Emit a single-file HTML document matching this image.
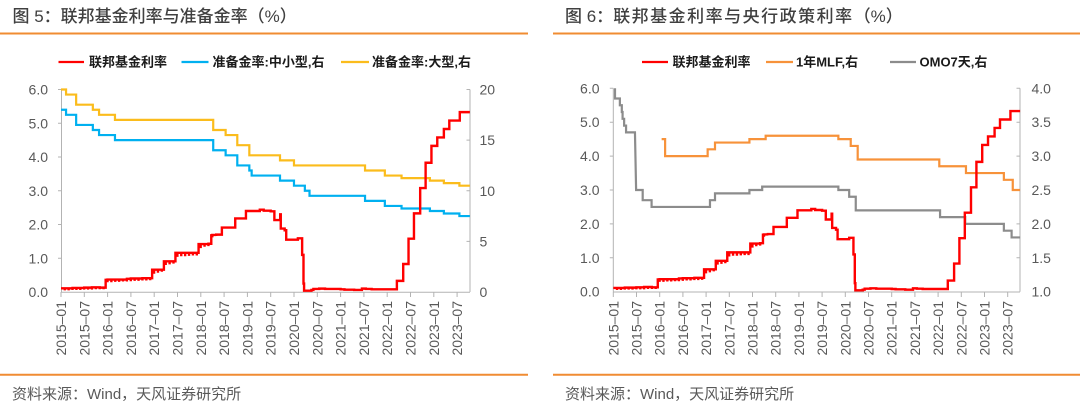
<!DOCTYPE html>
<html>
<head>
<meta charset="utf-8">
<style>
html,body{margin:0;padding:0;background:#fff;}
body{width:1080px;height:413px;overflow:hidden;}
svg{display:block;}
text{font-family:"Liberation Sans","Noto Sans CJK SC",sans-serif;}
.t{font-size:17px;font-weight:500;fill:#404040;}
.lg{font-size:13px;font-weight:bold;fill:#1a1a1a;}
.src{font-size:15px;fill:#595959;}
.yl{font-size:14px;fill:#595959;}
.xl{font-size:14px;fill:#595959;}
.ax{stroke:#b3b3b3;stroke-width:1;fill:none;}
.ln{fill:none;vector-effect:non-scaling-stroke;stroke-linejoin:miter;}
</style>
</head>
<body>
<svg width="1080" height="413" viewBox="0 0 1080 413" xmlns="http://www.w3.org/2000/svg">
<rect width="1080" height="413" fill="#fff"/>

<!-- ================= LEFT PANEL ================= -->
<text class="t" x="12.5" y="22">图 5：联邦基金利率与准备金率（%）</text>
<line x1="0" y1="33.5" x2="528" y2="33.5" stroke="#f08c32" stroke-width="2"/>

<!-- legend -->
<line x1="58.5" y1="62" x2="84" y2="62" stroke="#ff0000" stroke-width="2.2"/>
<text class="lg" x="89" y="66.5">联邦基金利率</text>
<line x1="181.5" y1="62" x2="208.5" y2="62" stroke="#00b0f0" stroke-width="2.2"/>
<text class="lg" x="212.5" y="66.5">准备金率:中小型,右</text>
<line x1="341" y1="62" x2="369" y2="62" stroke="#fbbc1c" stroke-width="2.2"/>
<text class="lg" x="372" y="66.5">准备金率:大型,右</text>

<!-- axes -->
<line class="ax" x1="61.5" y1="89.5" x2="61.5" y2="292"/>
<line class="ax" x1="470" y1="89.5" x2="470" y2="292"/>
<line class="ax" x1="61" y1="292.3" x2="470" y2="292.3"/>
<g class="ax">
<path d="M58,89.5H61.5M58,123.25H61.5M58,157H61.5M58,190.75H61.5M58,224.5H61.5M58,258.25H61.5"/>
<path d="M466.5,89.5H470M466.5,140.1H470M466.5,190.75H470M466.5,241.4H470"/>
<path d="M61,292V297M84.3,292V297M107.6,292V297M130.9,292V297M154.2,292V297M177.5,292V297M200.8,292V297M224.1,292V297M247.4,292V297M270.7,292V297M294,292V297M317.3,292V297M340.6,292V297M363.9,292V297M387.2,292V297M410.5,292V297M433.8,292V297M457.1,292V297"/>
</g>

<!-- y labels left -->
<g class="yl" text-anchor="end">
<text x="48" y="94.5">6.0</text>
<text x="48" y="128.3">5.0</text>
<text x="48" y="162">4.0</text>
<text x="48" y="195.8">3.0</text>
<text x="48" y="229.5">2.0</text>
<text x="48" y="263.3">1.0</text>
<text x="48" y="297">0.0</text>
</g>
<g class="yl">
<text x="479.5" y="94.5">20</text>
<text x="479.5" y="145.1">15</text>
<text x="479.5" y="195.8">10</text>
<text x="479.5" y="246.4">5</text>
<text x="479.5" y="297">0</text>
</g>

<!-- x labels left -->
<g class="xl" text-anchor="end">
<text transform="translate(66,301) rotate(-90)">2015–01</text>
<text transform="translate(89.3,301) rotate(-90)">2015–07</text>
<text transform="translate(112.6,301) rotate(-90)">2016–01</text>
<text transform="translate(135.9,301) rotate(-90)">2016–07</text>
<text transform="translate(159.2,301) rotate(-90)">2017–01</text>
<text transform="translate(182.5,301) rotate(-90)">2017–07</text>
<text transform="translate(205.8,301) rotate(-90)">2018–01</text>
<text transform="translate(229.1,301) rotate(-90)">2018–07</text>
<text transform="translate(252.4,301) rotate(-90)">2019–01</text>
<text transform="translate(275.7,301) rotate(-90)">2019–07</text>
<text transform="translate(299,301) rotate(-90)">2020–01</text>
<text transform="translate(322.3,301) rotate(-90)">2020–07</text>
<text transform="translate(345.6,301) rotate(-90)">2021–01</text>
<text transform="translate(368.9,301) rotate(-90)">2021–07</text>
<text transform="translate(392.2,301) rotate(-90)">2022–01</text>
<text transform="translate(415.5,301) rotate(-90)">2022–07</text>
<text transform="translate(438.8,301) rotate(-90)">2023–01</text>
<text transform="translate(462.1,301) rotate(-90)">2023–07</text>
</g>

<!-- series left: RRR (right axis 0-20) -->
<g transform="matrix(3.883,0,0,-10.125,61,292)">
<path class="ln" stroke="#fbbc1c" stroke-width="2.2" d="M0,20 H1.3 V19.5 H3.9 V18.5 H8.2 V18 H9.8 V17.5 H13.9 V17 H39.2 V16 H42.4 V15.5 H45.4 V14.5 H48.5 V13.5 H56.4 V13 H60 V12.5 H78.3 V12 H83.4 V11.5 H87.7 V11.25 H95 V11 H98.6 V10.75 H102.6 V10.5 H105.3"/>
<path class="ln" stroke="#00b0f0" stroke-width="2.2" d="M0,18 H1.3 V17.5 H3.9 V16.5 H8.2 V16 H9.8 V15.5 H13.9 V15 H39.2 V14 H42.4 V13.5 H45.4 V12.5 H48.5 V12 H49.1 V11.5 H56.4 V11 H60 V10.5 H62.8 V10 H64 V9.5 H78.3 V9 H83.4 V8.5 H87.7 V8.25 H95 V8 H98.6 V7.75 H102.6 V7.5 H105.3"/>
</g>
<!-- series left: FFR (left axis 0-6) -->
<g transform="matrix(3.883,0,0,-33.75,61,292)">
<path class="ln" stroke="#ff0000" stroke-width="2.4" d="M0,0.11 H0.97V0.05V0.11 H1.97V0.05V0.11 H2.97V0.06V0.12 H3.97V0.06V0.12 H4.97V0.06V0.12 H5.97V0.07V0.13 H6.97V0.07V0.13 H7.97V0.07V0.14 H8.97V0.08V0.14 H9.97V0.08V0.13 H10.97V0.08V0.13 H11.5V0.36 H11.97V0.29V0.37 H12.97V0.29V0.37 H13.97V0.3V0.37 H14.97V0.3V0.37 H15.97V0.31V0.37 H16.97V0.31V0.39 H17.97V0.32V0.4 H18.97V0.33V0.4 H19.97V0.33V0.4 H20.97V0.34V0.41 H21.97V0.34V0.41 H22.97V0.35V0.41 H23.47V0.66 H23.97V0.54V0.66 H24.97V0.57V0.66 H25.97V0.6V0.66 H26.5V0.91 H26.97V0.8V0.91 H27.97V0.82V0.91 H28.97V0.84V0.91 H29.47V1.16 H29.97V1.04V1.16 H30.97V1.06V1.16 H31.97V1.06V1.16 H32.97V1.07V1.16 H33.97V1.08V1.16 H34.97V1.08V1.16 H35.43V1.42 H35.97V1.3V1.42 H36.97V1.34V1.42 H37.97V1.36V1.43 H38.7V1.68 H38.97V1.62V1.69 H39.97V1.66V1.7 H40.97V1.68V1.7 H41.43V1.91 H44.87V2.18 H47.63V2.4 H51.2V2.44 H52.2V2.41 H54V2.39 H54.95V2.13 H56.45V2.3 H56.6V1.88 H57.6V1.83 H58V1.55 H61V1.59 H62.1V1.1 H62.45V0.25 H62.6V0.04 H64.5V0.06 H65V0.09 H66.5V0.1 H68V0.09 H70V0.09 H72V0.08 H73V0.07 H75.5V0.06 H77.5V0.1 H78.5V0.09 H80V0.08 H86.5V0.33 H88.13V0.83 H89.5V1.58 H90.9V2.33 H92.5V3.08 H93.9V3.83 H95.4V4.33 H96.9V4.58 H98.6V4.83 H100V5.08 H102.7V5.33 H105.3"/>
</g>

<line x1="0" y1="374.8" x2="528" y2="374.8" stroke="#f08c32" stroke-width="2"/>
<text class="src" x="12" y="399">资料来源：Wind，天风证券研究所</text>

<!-- ================= RIGHT PANEL ================= -->
<text class="t" x="565" y="22">图 6：<tspan letter-spacing="1.5">联邦基金利率与央行政策利率</tspan>（%）</text>
<line x1="553" y1="33.5" x2="1080" y2="33.5" stroke="#f08c32" stroke-width="2"/>

<!-- legend -->
<line x1="642" y1="62" x2="668" y2="62" stroke="#ff0000" stroke-width="2.2"/>
<text class="lg" x="672.5" y="66.5">联邦基金利率</text>
<line x1="766" y1="62" x2="793" y2="62" stroke="#f7923a" stroke-width="2.2"/>
<text class="lg" x="796" y="66.5">1年MLF,右</text>
<line x1="890" y1="62" x2="916" y2="62" stroke="#8c8c8c" stroke-width="2.2"/>
<text class="lg" x="919.5" y="66.5">OMO7天,右</text>

<!-- axes -->
<line class="ax" x1="613.3" y1="88.3" x2="613.3" y2="291.7"/>
<line class="ax" x1="1020" y1="88.3" x2="1020" y2="291.7"/>
<line class="ax" x1="613" y1="292" x2="1020" y2="292"/>
<g class="ax">
<path d="M609.8,88.3H613.3M609.8,122.2H613.3M609.8,156.1H613.3M609.8,190H613.3M609.8,223.9H613.3M609.8,257.8H613.3"/>
<path d="M1016.5,88.3H1020M1016.5,122.2H1020M1016.5,156.1H1020M1016.5,190H1020M1016.5,223.9H1020M1016.5,257.8H1020"/>
<path d="M613.3,292V297M636.5,292V297M659.7,292V297M682.9,292V297M706.1,292V297M729.3,292V297M752.5,292V297M775.7,292V297M798.9,292V297M822.1,292V297M845.3,292V297M868.5,292V297M891.7,292V297M914.9,292V297M938.1,292V297M961.3,292V297M984.5,292V297M1007.7,292V297"/>
</g>

<g class="yl" text-anchor="end">
<text x="599.5" y="93.3">6.0</text>
<text x="599.5" y="127.2">5.0</text>
<text x="599.5" y="161.1">4.0</text>
<text x="599.5" y="195">3.0</text>
<text x="599.5" y="228.9">2.0</text>
<text x="599.5" y="262.8">1.0</text>
<text x="599.5" y="296.7">0.0</text>
</g>
<g class="yl">
<text x="1031.5" y="93.3">4.0</text>
<text x="1031.5" y="127.2">3.5</text>
<text x="1031.5" y="161.1">3.0</text>
<text x="1031.5" y="195">2.5</text>
<text x="1031.5" y="228.9">2.0</text>
<text x="1031.5" y="262.8">1.5</text>
<text x="1031.5" y="296.7">1.0</text>
</g>

<g class="xl" text-anchor="end">
<text transform="translate(618.3,301) rotate(-90)">2015–01</text>
<text transform="translate(641.5,301) rotate(-90)">2015–07</text>
<text transform="translate(664.7,301) rotate(-90)">2016–01</text>
<text transform="translate(687.9,301) rotate(-90)">2016–07</text>
<text transform="translate(711.1,301) rotate(-90)">2017–01</text>
<text transform="translate(734.3,301) rotate(-90)">2017–07</text>
<text transform="translate(757.5,301) rotate(-90)">2018–01</text>
<text transform="translate(780.7,301) rotate(-90)">2018–07</text>
<text transform="translate(803.9,301) rotate(-90)">2019–01</text>
<text transform="translate(827.1,301) rotate(-90)">2019–07</text>
<text transform="translate(850.3,301) rotate(-90)">2020–01</text>
<text transform="translate(873.5,301) rotate(-90)">2020–07</text>
<text transform="translate(896.7,301) rotate(-90)">2021–01</text>
<text transform="translate(919.9,301) rotate(-90)">2021–07</text>
<text transform="translate(943.1,301) rotate(-90)">2022–01</text>
<text transform="translate(966.3,301) rotate(-90)">2022–07</text>
<text transform="translate(989.5,301) rotate(-90)">2023–01</text>
<text transform="translate(1012.7,301) rotate(-90)">2023–07</text>
</g>

<!-- series right: MLF & OMO (right axis 1-4) -->
<g transform="matrix(3.867,0,0,-67.8,613.3,359.5)">
<path class="ln" stroke="#f7923a" stroke-width="2.2" d="M12.5,3.25 H13.4 V3.0 H24.4 V3.1 H26.3 V3.2 H35.2 V3.25 H39.4 V3.3 H58.2 V3.25 H61.4 V3.15 H63.2 V2.95 H84.3 V2.85 H91.2 V2.75 H101 V2.65 H103.3 V2.5 H105.2"/>
<path class="ln" stroke="#8c8c8c" stroke-width="2.2" d="M0.44,4.0 V3.85 H1.7 V3.75 H2.2 V3.65 H2.4 V3.55 H2.8 V3.45 H3.3 V3.35 H5.6 L5.9,2.5 H7.6 V2.35 H9.9 V2.25 H25 V2.35 H26.3 V2.45 H35.2 V2.5 H38.5 V2.55 H58.2 V2.5 H61 V2.4 H62.7 V2.2 H84.5 V2.1 H91 V2.0 H101 V1.9 H103 V1.8 H105.2"/>
</g>
<!-- series right: FFR (left axis 0-6) -->
<g transform="matrix(3.867,0,0,-33.9,613.3,291.7)">
<path class="ln" stroke="#ff0000" stroke-width="2.4" d="M0,0.11 H0.97V0.05V0.11 H1.97V0.05V0.11 H2.97V0.06V0.12 H3.97V0.06V0.12 H4.97V0.06V0.12 H5.97V0.07V0.13 H6.97V0.07V0.13 H7.97V0.07V0.14 H8.97V0.08V0.14 H9.97V0.08V0.13 H10.97V0.08V0.13 H11.5V0.36 H11.97V0.29V0.37 H12.97V0.29V0.37 H13.97V0.3V0.37 H14.97V0.3V0.37 H15.97V0.31V0.37 H16.97V0.31V0.39 H17.97V0.32V0.4 H18.97V0.33V0.4 H19.97V0.33V0.4 H20.97V0.34V0.41 H21.97V0.34V0.41 H22.97V0.35V0.41 H23.47V0.66 H23.97V0.54V0.66 H24.97V0.57V0.66 H25.97V0.6V0.66 H26.5V0.91 H26.97V0.8V0.91 H27.97V0.82V0.91 H28.97V0.84V0.91 H29.47V1.16 H29.97V1.04V1.16 H30.97V1.06V1.16 H31.97V1.06V1.16 H32.97V1.07V1.16 H33.97V1.08V1.16 H34.97V1.08V1.16 H35.43V1.42 H35.97V1.3V1.42 H36.97V1.34V1.42 H37.97V1.36V1.43 H38.7V1.68 H38.97V1.62V1.69 H39.97V1.66V1.7 H40.97V1.68V1.7 H41.43V1.91 H44.87V2.18 H47.63V2.4 H51.2V2.44 H52.2V2.41 H54V2.39 H54.95V2.13 H56.45V2.3 H56.6V1.88 H57.6V1.83 H58V1.55 H61V1.59 H62.1V1.1 H62.45V0.25 H62.6V0.04 H64.5V0.06 H65V0.09 H66.5V0.1 H68V0.09 H70V0.09 H72V0.08 H73V0.07 H75.5V0.06 H77.5V0.1 H78.5V0.09 H80V0.08 H86.5V0.33 H88.13V0.83 H89.5V1.58 H90.9V2.33 H92.5V3.08 H93.9V3.83 H95.4V4.33 H96.9V4.58 H98.6V4.83 H100V5.08 H102.7V5.33 H105.2"/>
</g>

<line x1="553" y1="374.8" x2="1080" y2="374.8" stroke="#f08c32" stroke-width="2"/>
<text class="src" x="565" y="399">资料来源：Wind，天风证券研究所</text>
</svg>
</body>
</html>
